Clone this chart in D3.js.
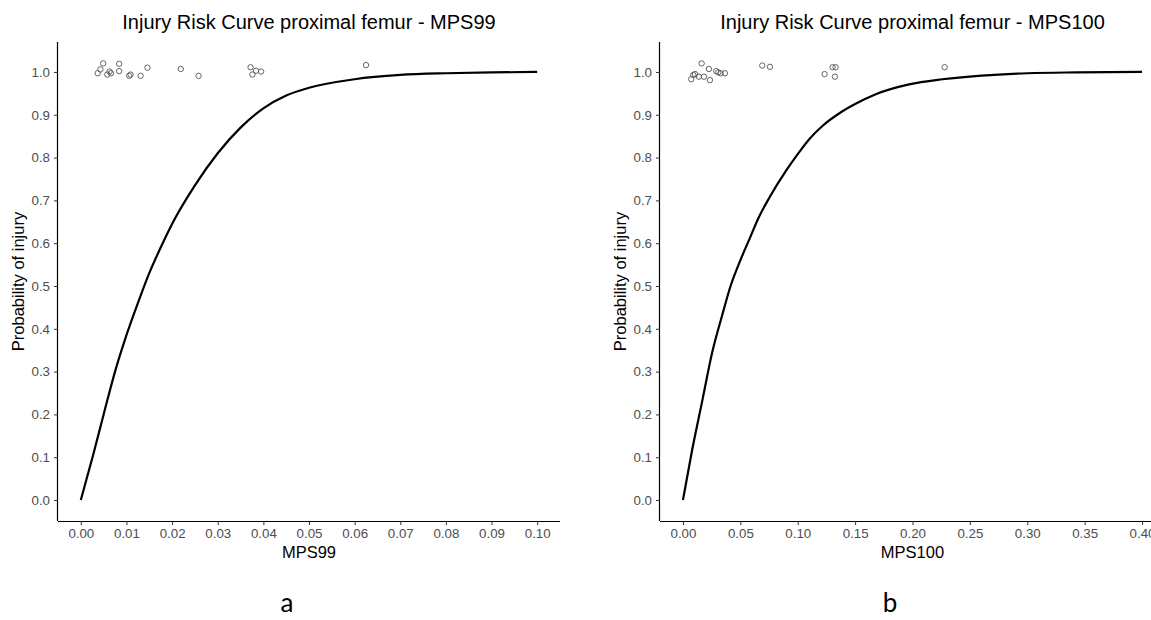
<!DOCTYPE html>
<html>
<head>
<meta charset="utf-8">
<script src="https://cdn.jsdelivr.net/npm/d3@7"></script>
<style>
  html, body { margin: 0; padding: 0; background: #fff; }
  svg { display: block; }
</style>
</head>
<body>
<svg id="chart" width="1151" height="620"></svg>
<script>
// ---------- data ----------
const leftTitle = "Injury Risk Curve proximal femur - MPS99";
const rightTitle = "Injury Risk Curve proximal femur - MPS100";
const leftXLabel = "MPS99";
const rightXLabel = "MPS100";
const yLabel = "Probability of injury";
const panelLetters = ["a", "b"];

const leftXTicks = [0, 0.01, 0.02, 0.03, 0.04, 0.05, 0.06, 0.07, 0.08, 0.09, 0.10];
const rightXTicks = [0, 0.05, 0.10, 0.15, 0.20, 0.25, 0.30, 0.35, 0.40];
const yTicks = [0, 0.1, 0.2, 0.3, 0.4, 0.5, 0.6, 0.7, 0.8, 0.9, 1.0];

// risk curve MPS99
const leftCurveX = [0, 0.0027, 0.005, 0.0075, 0.010, 0.0125, 0.015, 0.0175, 0.020, 0.025, 0.030, 0.035, 0.040, 0.045, 0.050, 0.060, 0.070, 0.080, 0.090, 0.100];
const leftCurveY = [0, 0.105, 0.200, 0.300, 0.385, 0.460, 0.530, 0.590, 0.645, 0.735, 0.810, 0.870, 0.915, 0.945, 0.963, 0.983, 0.993, 0.997, 0.999, 1.000];

// observed cases MPS99 (jittered around 1)
const leftPointsX = [0.0037, 0.0043, 0.0049, 0.0058, 0.0063, 0.0066, 0.0084, 0.0084, 0.0106, 0.0109, 0.0131, 0.0146, 0.0219, 0.0258, 0.0372, 0.0376, 0.0384, 0.0395, 0.0625];
const leftPointsY = [0.997, 1.006, 1.020, 0.994, 1.001, 0.997, 1.019, 1.002, 0.991, 0.994, 0.991, 1.010, 1.007, 0.991, 1.011, 0.994, 1.003, 1.001, 1.016];

// risk curve MPS100
const rightCurveX = [0, 0.008, 0.017, 0.0255, 0.034, 0.0415, 0.050, 0.058, 0.066, 0.075, 0.090, 0.100, 0.110, 0.122, 0.136, 0.150, 0.168, 0.197, 0.226, 0.275, 0.300, 0.343, 0.400];
const rightCurveY = [0, 0.117, 0.234, 0.345, 0.430, 0.500, 0.560, 0.610, 0.660, 0.705, 0.770, 0.808, 0.843, 0.875, 0.903, 0.925, 0.948, 0.971, 0.983, 0.994, 0.997, 0.999, 1.000];

// observed cases MPS100
const rightPointsX = [0.0072, 0.0090, 0.0105, 0.0139, 0.0163, 0.0183, 0.0226, 0.0235, 0.0290, 0.0308, 0.0328, 0.0366, 0.0691, 0.0758, 0.1234, 0.1304, 0.1330, 0.1324, 0.2280];
const rightPointsY = [0.983, 0.993, 0.995, 0.989, 1.020, 0.989, 1.007, 0.981, 1.002, 0.999, 0.997, 0.997, 1.015, 1.012, 0.995, 1.011, 1.011, 0.989, 1.011];

// ---------- drawing ----------
const svg = d3.select("#chart");
const FONT = "'Liberation Sans', Arial, sans-serif";

function drawPanel(cfg) {
  const x = d3.scaleLinear().domain(cfg.xDomain).range([cfg.left, cfg.right]);
  const y = d3.scaleLinear().domain([-0.049, 1.070]).range([cfg.bottom, cfg.top]);
  const g = svg.append("g");

  // title
  g.append("text")
    .attr("x", (cfg.left + cfg.right) / 2).attr("y", 29)
    .attr("text-anchor", "middle")
    .style("font-family", FONT).style("font-size", "20px").attr("fill", "#000")
    .text(cfg.title);

  // axes
  const xAxis = d3.axisBottom(x).tickValues(cfg.xTicks).tickFormat(d3.format(".2f")).tickSize(4).tickPadding(4);
  const yAxis = d3.axisLeft(y).tickValues(yTicks).tickFormat(d3.format(".1f")).tickSize(4).tickPadding(4);

  const gx = g.append("g").attr("transform", `translate(0,${cfg.bottom})`).call(xAxis);
  const gy = g.append("g").attr("transform", `translate(${cfg.left},0)`).call(yAxis);
  [gx, gy].forEach(a => {
    a.select(".domain").attr("stroke", "#000").attr("stroke-width", 1.2);
    a.selectAll(".tick line").attr("stroke", "#333").attr("stroke-width", 1);
    a.selectAll(".tick text").attr("fill", "#4d4d4d")
      .style("font-family", FONT).style("font-size", "13.3px");
  });
  // plain axis lines (no outer ticks)
  gx.select(".domain").attr("d", `M${cfg.left},0.5H${cfg.right}`);
  gy.select(".domain").attr("d", `M-0.5,${cfg.top}V${cfg.bottom}`);

  // axis labels
  g.append("text")
    .attr("x", (cfg.left + cfg.right) / 2).attr("y", 558)
    .attr("text-anchor", "middle")
    .style("font-family", FONT).style("font-size", "16.5px").attr("fill", "#000")
    .text(cfg.xLabel);
  g.append("text")
    .attr("transform", `translate(${cfg.left - 34},${(cfg.top + cfg.bottom) / 2}) rotate(-90)`)
    .attr("text-anchor", "middle")
    .style("font-family", FONT).style("font-size", "16.5px").attr("fill", "#000")
    .text(yLabel);

  // curve
  const pts = cfg.curveX.map((v, i) => [v, cfg.curveY[i]]);
  g.append("path")
    .datum(pts)
    .attr("fill", "none").attr("stroke", "#000").attr("stroke-width", 2.2)
    .attr("d", d3.line().x(d => x(d[0])).y(d => y(d[1])).curve(d3.curveMonotoneX));

  // points
  const obs = cfg.ptsX.map((v, i) => [v, cfg.ptsY[i]]);
  g.append("g").selectAll("circle").data(obs).join("circle")
    .attr("cx", d => x(d[0])).attr("cy", d => y(d[1])).attr("r", 2.7)
    .attr("fill", "none").attr("stroke", "#555").attr("stroke-width", 0.9);

  // panel letter
  g.append("text")
    .attr("x", cfg.letterX).attr("y", 612)
    .attr("text-anchor", "middle")
    .style("font-family", "Lato, 'Open Sans', sans-serif").style("font-size", "26px").attr("fill", "#000")
    .text(cfg.letter);
}

drawPanel({
  left: 58, right: 560, top: 42, bottom: 521,
  xDomain: [-0.005, 0.105], xTicks: leftXTicks,
  title: leftTitle, xLabel: leftXLabel,
  curveX: leftCurveX, curveY: leftCurveY,
  ptsX: leftPointsX, ptsY: leftPointsY,
  letter: panelLetters[0], letterX: 287
});
drawPanel({
  left: 660, right: 1165, top: 42, bottom: 521,
  xDomain: [-0.02, 0.42], xTicks: rightXTicks,
  title: rightTitle, xLabel: rightXLabel,
  curveX: rightCurveX, curveY: rightCurveY,
  ptsX: rightPointsX, ptsY: rightPointsY,
  letter: panelLetters[1], letterX: 890
});
</script>
</body>
</html>
